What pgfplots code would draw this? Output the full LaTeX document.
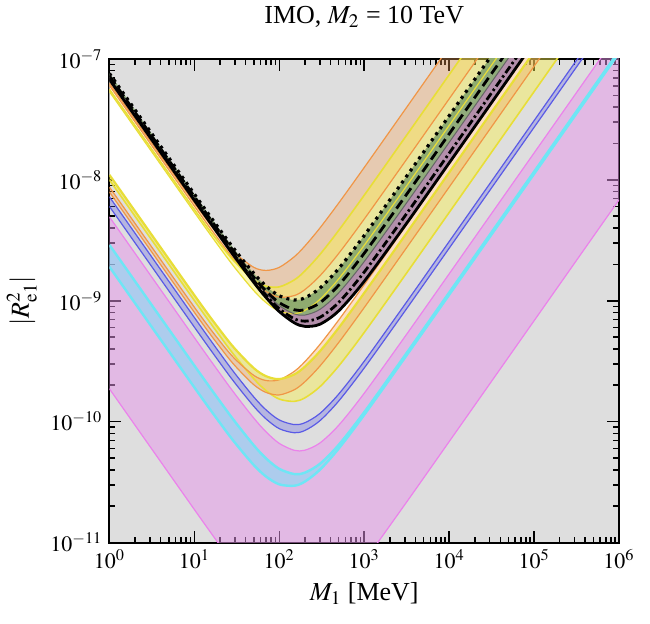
\documentclass[border=0pt]{standalone}
\usepackage{mathptmx}
\usepackage{fontspec}
\setmainfont{Liberation Serif}
\usepackage{pgfplots}
\pgfplotsset{compat=1.18}
\usepackage{pgfplotstable}
\usepgfplotslibrary{fillbetween}

\definecolor{bggray}{RGB}{222,222,222}
\definecolor{corange}{RGB}{240,150,70}
\definecolor{forange}{RGB}{245,165,95}
\definecolor{cyel}{RGB}{232,222,55}
\definecolor{fyel}{RGB}{250,240,80}
\definecolor{cblue}{RGB}{90,90,230}
\definecolor{cpink}{RGB}{235,130,235}
\definecolor{fpink}{RGB}{230,150,235}
\definecolor{ccyan}{RGB}{110,230,245}
\definecolor{fcyan}{RGB}{130,220,245}
\definecolor{cgreen}{RGB}{125,158,100}
\definecolor{cpurple}{RGB}{160,115,150}

% top cluster of curves
\pgfplotstableread{
M O3u Y3u O3l Y3l DOT DASH GL DD BS
1 6.31e-8 5.62e-8 6.03e-8 5.37e-8 7.59e-8 7.24e-8 7.08e-8 6.92e-8 6.76e-8
10 6.436e-9 5.697e-9 6.073e-9 5.398e-9 7.624e-9 7.264e-9 7.10e-9 6.937e-9 6.774e-9
20 3.407e-9 2.96e-9 3.107e-9 2.741e-9 3.863e-9 3.668e-9 3.581e-9 3.493e-9 3.408e-9
30 2.481e-9 2.096e-9 2.149e-9 1.875e-9 2.632e-9 2.485e-9 2.421e-9 2.357e-9 2.294e-9
50 1.892e-9 1.496e-9 1.439e-9 1.215e-9 1.688e-9 1.568e-9 1.518e-9 1.467e-9 1.421e-9
70 1.783e-9 1.322e-9 1.189e-9 9.645e-10 1.321e-9 1.202e-9 1.154e-9 1.105e-9 1.062e-9
100 1.891e-9 1.303e-9 1.071e-9 8.19e-10 1.098e-9 9.64e-10 9.12e-10 8.58e-10 8.14e-10
150 2.311e-9 1.487e-9 1.104e-9 7.81e-10 1.015e-9 8.427e-10 7.78e-10 7.103e-10 6.577e-10
200 2.836e-9 1.763e-9 1.237e-9 8.325e-10 1.058e-9 8.42e-10 7.62e-10 6.78e-10 6.14e-10
300 3.99e-9 2.41e-9 1.605e-9 1.025e-9 1.27e-9 9.613e-10 8.48e-10 7.287e-10 6.393e-10
500 6.426e-9 3.818e-9 2.461e-9 1.517e-9 1.847e-9 1.345e-9 1.162e-9 9.684e-10 8.252e-10
1000 1.266e-8 7.466e-9 4.74e-9 2.874e-9 3.466e-9 2.472e-9 2.111e-9 1.729e-9 1.448e-9
3000 3.782e-8 2.225e-8 1.406e-8 8.478e-9 1.02e-8 7.224e-9 6.144e-9 5.003e-9 4.163e-9
10000 1.26e-7 7.41e-8 4.68e-8 2.82e-8 3.39e-8 2.401e-8 2.041e-8 1.661e-8 1.381e-8
100000 1.26e-6 7.41e-7 4.68e-7 2.82e-7 3.39e-7 2.4e-7 2.04e-7 1.66e-7 1.38e-7
1000000 1.26e-5 7.41e-6 4.68e-6 2.82e-6 3.39e-6 2.4e-6 2.04e-6 1.66e-6 1.38e-6
}\topc

% lower cluster of curves
\pgfplotstableread{
M Y1 O2u O2l Y2 BLu BLl PKu CYu CYl PKl
1 1.10e-8 8.71e-9 7.94e-9 1.00e-8 7.24e-9 6.03e-9 4.94e-9 2.90e-9 1.91e-9 1.87e-10
10 1.112e-9 8.845e-10 8.027e-10 1.005e-9 7.271e-10 6.057e-10 4.957e-10 2.912e-10 1.921e-10 1.877e-11
20 5.73e-10 4.625e-10 4.144e-10 5.107e-10 3.682e-10 3.069e-10 2.503e-10 1.473e-10 9.774e-11 9.487e-12
30 4.012e-10 3.308e-10 2.908e-10 3.494e-10 2.506e-10 2.092e-10 1.697e-10 1.002e-10 6.703e-11 6.438e-12
50 2.775e-10 2.417e-10 2.024e-10 2.269e-10 1.603e-10 1.342e-10 1.072e-10 6.385e-11 4.38e-11 4.082e-12
70 2.376e-10 2.189e-10 1.744e-10 1.805e-10 1.25e-10 1.052e-10 8.226e-11 4.962e-11 3.513e-11 3.15e-12
100 2.25e-10 2.221e-10 1.665e-10 1.537e-10 1.033e-10 8.75e-11 6.61e-11 4.07e-11 3.03e-11 2.554e-12
150 2.458e-10 2.606e-10 1.836e-10 1.472e-10 9.462e-11 8.1e-11 5.798e-11 3.688e-11 2.953e-11 2.273e-12
200 2.85e-10 3.136e-10 2.139e-10 1.574e-10 9.8e-11 8.455e-11 5.81e-11 3.79e-11 3.195e-11 2.303e-12
300 3.817e-10 4.34e-10 2.878e-10 1.944e-10 1.168e-10 1.017e-10 6.657e-11 4.477e-11 3.997e-11 2.675e-12
500 5.97e-10 6.924e-10 4.514e-10 2.885e-10 1.69e-10 1.481e-10 9.338e-11 6.43e-11 5.982e-11 3.794e-12
1000 1.161e-9 1.359e-9 8.789e-10 5.47e-10 3.162e-10 2.78e-10 1.719e-10 1.199e-10 1.139e-10 7.027e-12
3000 3.454e-9 4.053e-9 2.616e-9 1.614e-9 9.294e-10 8.18e-10 5.026e-10 3.52e-10 3.366e-10 2.058e-11
10000 1.15e-8 1.35e-8 8.71e-9 5.371e-9 3.091e-9 2.721e-9 1.6705e-9 1.17e-9 1.12e-9 6.842e-11
100000 1.15e-7 1.35e-7 8.71e-8 5.37e-8 3.09e-8 2.72e-8 1.67e-8 1.17e-8 1.12e-8 6.84e-10
1000000 1.15e-6 1.35e-6 8.71e-7 5.37e-7 3.09e-7 2.72e-7 1.67e-7 1.17e-7 1.12e-7 6.84e-9
}\lowc

\begin{document}
\begin{tikzpicture}
\begin{axis}[
  scale only axis, width=255pt, height=242pt,
  xmode=log, ymode=log,
  xmin=1, xmax=1e6, ymin=1e-11, ymax=1e-7,
  axis background/.style={fill=bggray},
  tick align=inside, major tick length=6pt, minor tick length=3pt,
  every tick/.style={black, line width=0.8pt},
  axis line style={line width=1pt},
  xtick={1,10,100,1000,10000,100000,1000000},
  ytick={1e-11,1e-10,1e-9,1e-8,1e-7},
  tick label style={font=\fontsize{11}{13}\selectfont},
  title={IMO, $M_2$ = 10 TeV},
  title style={font=\fontsize{13}{15}\selectfont, yshift=6pt},
  xlabel={$M_1$ [MeV]},
  ylabel={$|R^2_{\mathrm{e}1}|$},
  label style={font=\fontsize{13}{15}\selectfont},
]
% band edges: lower cluster
\addplot[name path=PKl, draw=cpink, line width=0.6pt, smooth] table[x=M,y=PKl]{\lowc};
\addplot[name path=PKu, draw=cpink, line width=0.6pt, smooth] table[x=M,y=PKu]{\lowc};
\addplot[name path=CYl, draw=ccyan, line width=1.2pt, smooth] table[x=M,y=CYl]{\lowc};
\addplot[name path=CYu, draw=ccyan, line width=1.2pt, smooth] table[x=M,y=CYu]{\lowc};
\addplot[name path=BLl, draw=cblue, line width=0.6pt, smooth] table[x=M,y=BLl]{\lowc};
\addplot[name path=BLu, draw=cblue, line width=0.6pt, smooth] table[x=M,y=BLu]{\lowc};
\addplot[name path=Y2, draw=cyel, line width=0.8pt, smooth] table[x=M,y=Y2]{\lowc};
\addplot[name path=O2l, draw=corange, line width=0.6pt, smooth] table[x=M,y=O2l]{\lowc};
\addplot[name path=O2u, draw=corange, line width=0.6pt, smooth] table[x=M,y=O2u]{\lowc};
\addplot[name path=Y1, draw=cyel, line width=1.1pt, smooth] table[x=M,y=Y1]{\lowc};
% band edges: upper cluster
\addplot[name path=Y3l, draw=cyel, line width=0.6pt, smooth] table[x=M,y=Y3l]{\topc};
\addplot[name path=O3l, draw=corange, line width=0.6pt, smooth] table[x=M,y=O3l]{\topc};
\addplot[name path=Y3u, draw=cyel, line width=0.8pt, smooth] table[x=M,y=Y3u]{\topc};
\addplot[name path=O3u, draw=corange, line width=0.6pt, smooth] table[x=M,y=O3u]{\topc};
\addplot[name path=GL, draw=black!60, line width=0.5pt, smooth] table[x=M,y=GL]{\topc};
% black curves
\addplot[name path=BSp, black, line width=1.4pt, smooth] table[x=M,y=BS]{\topc};
\addplot[black, line width=1.4pt, smooth, dash pattern=on 4pt off 1.5pt on 1.2pt off 1.5pt] table[x=M,y=DD]{\topc};
\addplot[black, line width=1.4pt, smooth, dash pattern=on 5pt off 2.5pt] table[x=M,y=DASH]{\topc};
\addplot[name path=DOTp, black, line width=1.6pt, smooth, dash pattern=on 1.5pt off 2.2pt] table[x=M,y=DOT]{\topc};
% fills (drawn behind the lines, on the pre main layer)
\addplot[fill=white] fill between[of=DOTp and Y1];
\addplot[fill=fpink, fill opacity=0.5] fill between[of=PKu and PKl];
\addplot[fill=fcyan, fill opacity=0.55] fill between[of=CYu and CYl];
\addplot[fill=cblue, fill opacity=0.3] fill between[of=BLu and BLl];
\addplot[fill=fyel, fill opacity=0.45] fill between[of=Y1 and Y2];
\addplot[fill=forange, fill opacity=0.35] fill between[of=O2u and O2l];
\addplot[fill=forange, fill opacity=0.35] fill between[of=O3u and O3l];
\addplot[fill=fyel, fill opacity=0.45] fill between[of=Y3u and Y3l];
\addplot[fill=cgreen, fill opacity=0.85] fill between[of=DOTp and GL];
\addplot[fill=cpurple, fill opacity=0.8] fill between[of=GL and BSp];
\end{axis}
\path (current axis.south west) +(-54.5pt,-40.5pt);
\path (current axis.north east) +(15.5pt,26pt);
\end{tikzpicture}
\end{document}
